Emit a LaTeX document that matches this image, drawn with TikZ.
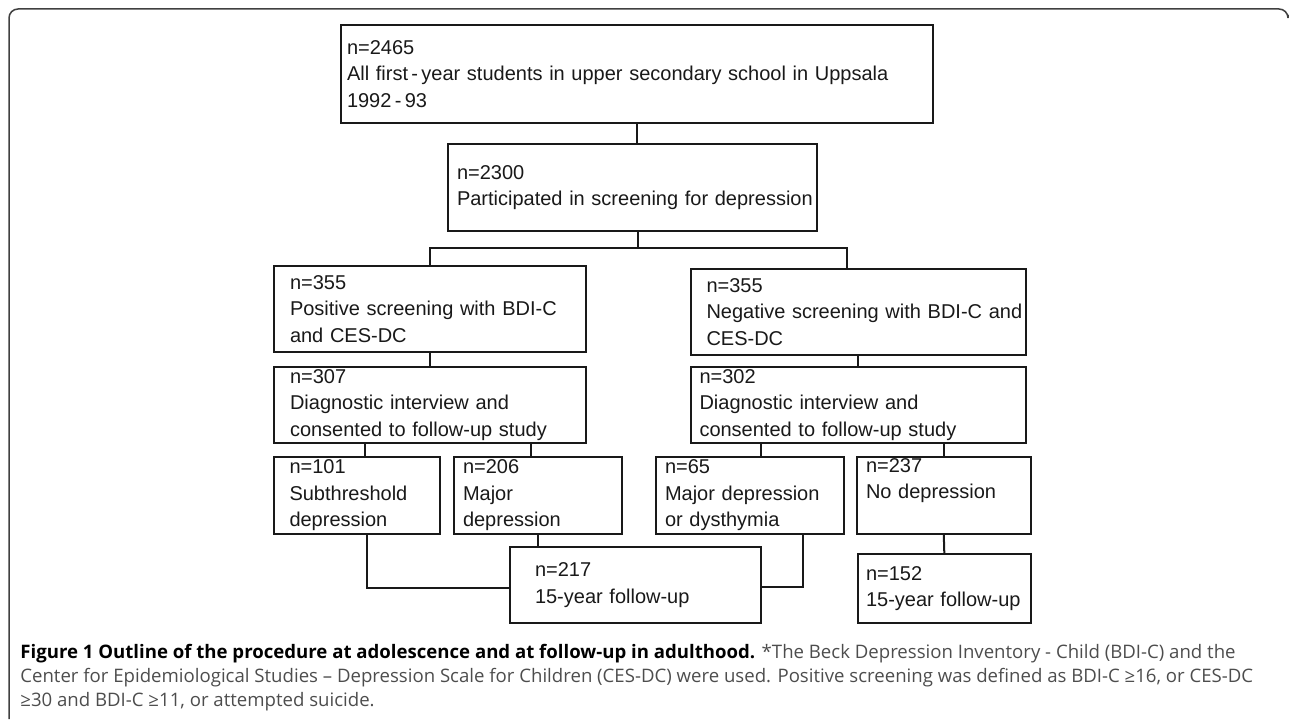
\documentclass[tikz,border=0pt]{standalone}
\usepackage{fontspec}
\setmainfont{Liberation Sans}
\newfontfamily\capfont{Open Sans}
\usetikzlibrary{positioning}
\tikzset{>=stealth}
\definecolor{capgray}{HTML}{4D4D4D}
\tikzset{
  box/.style={draw=black!90, line width=1pt, align=left, inner ysep=0pt,
    font=\fontsize{10}{13.25}\selectfont, text=black!90},
  link/.style={draw=black!90, line width=1pt},
}

\begin{document}
\begin{tikzpicture}[x=0.5pt,y=-0.5pt]
  \useasboundingbox (0,0) rectangle (1290,721);
  \draw[black!75, line width=0.75pt, rounded corners=4.5pt] (9,719) |- (1288,9) -- (1288,15);
  % screening stage
  \node[box, minimum width=296pt, minimum height=49pt, text width=290pt, inner xsep=3pt] (all) at (637,74)
    {n=2465\\All first\,-\,year students in upper secondary school in Uppsala\\1992\,-\,93};
  \node[box, minimum width=184.5pt, minimum height=43.5pt, text width=175.5pt, inner xsep=4.5pt] (screen) at (632.5,187.5)
    {n=2300\\\mbox{Participated in screening for depression}};
  \node[box, minimum width=156pt, minimum height=43pt, text width=140pt, inner xsep=8pt] (pos) at (430,309)
    {n=355\\Positive screening with BDI-C\\and CES-DC};
  \node[box, minimum width=167.25pt, minimum height=43pt, text width=151.75pt, inner xsep=7.75pt] (neg) at (858.25,312)
    {n=355\\\mbox{Negative screening with BDI-C and}\\CES-DC};
  % interview stage
  \node[box, minimum width=156pt, minimum height=38pt, text width=140pt, inner xsep=8pt] (diagL) at (430,405)
    {n=307\\Diagnostic interview and\\consented to follow-up study};
  \node[box, minimum width=167.25pt, minimum height=38pt, text width=158.75pt, inner xsep=4.25pt] (diagR) at (858.25,405)
    {n=302\\Diagnostic interview and\\consented to follow-up study};
  \node[box, minimum width=83.25pt, minimum height=38.5pt, text width=67.25pt, inner xsep=8pt] (sub) at (356.75,495.5)
    {n=101\\Subthreshold\\depression};
  \node[box, minimum width=84pt, minimum height=38.5pt, text width=75pt, inner xsep=4.5pt] (maj) at (538,495.5)
    {n=206\\Major\\depression};
  \node[box, minimum width=94pt, minimum height=38.5pt, text width=85pt, inner xsep=4.5pt] (dys) at (750,495.5)
    {n=65\\Major depression\\or dysthymia};
  \node[box, minimum width=86.8pt, minimum height=38.5pt, text width=77.8pt, inner xsep=4.5pt] (nodep) at (943.8,495.5)
    {n=237\\No depression\\\strut};
  % follow-up
  \node[box, minimum width=125.5pt, minimum height=38pt, text width=100.5pt, inner xsep=12.5pt] (fuA) at (635.5,585)
    {n=217\\15-year follow-up};
  \node[box, minimum width=86.3pt, minimum height=34.5pt, text width=78.3pt, inner xsep=4pt] (fuB) at (944.3,588.5)
    {n=152\\15-year follow-up};
  % connectors
  \coordinate (split) at (637.5,248);
  \draw[link] (all.south) -- (all.south |- screen.north);
  \draw[link] (screen.south -| split) -- (split);
  \draw[link] (pos.north) |- (split) -| ([xshift=-5.6pt]neg.north);
  \draw[link] (pos.south) -- (diagL.north);
  \draw[link] (neg.south) -- (diagR.north);
  \draw[link] ([xshift=4pt]sub.north) -- ([xshift=4pt]sub.north |- diagL.south);
  \draw[link] ([xshift=-3.5pt]maj.north) -- ([xshift=-3.5pt]maj.north |- diagL.south);
  \draw[link] ([xshift=5.5pt]dys.north) -- ([xshift=5.5pt]dys.north |- diagR.south);
  \draw[link] (nodep.north) -- (nodep.north |- diagR.south);
  \draw[link] ([xshift=5.3pt]sub.south) |- ([yshift=-1.5pt]fuA.west);
  \draw[link] (maj.south) -- (maj.south |- fuA.north);
  \draw[link] ([xshift=26.5pt]dys.south) |- ([yshift=-1pt]fuA.east);
  \draw[link] (nodep.south) -- (fuB.north);
  % caption (base = last line)
  \node[anchor=base west, align=left, inner sep=0pt, text=capgray,
    font=\capfont\fontsize{9.3}{12}\selectfont] (cap) at (20,706)
    {\textcolor{black}{\bfseries Figure 1 Outline of the procedure at adolescence and at follow-up in adulthood.} *The Beck Depression Inventory - Child (BDI-C) and the\\
     Center for Epidemiological Studies – Depression Scale for Children (CES-DC) were used. Positive screening was defined as BDI-C ≥16, or CES-DC\\
     ≥30 and BDI-C ≥11, or attempted suicide.};
\end{tikzpicture}
\end{document}
